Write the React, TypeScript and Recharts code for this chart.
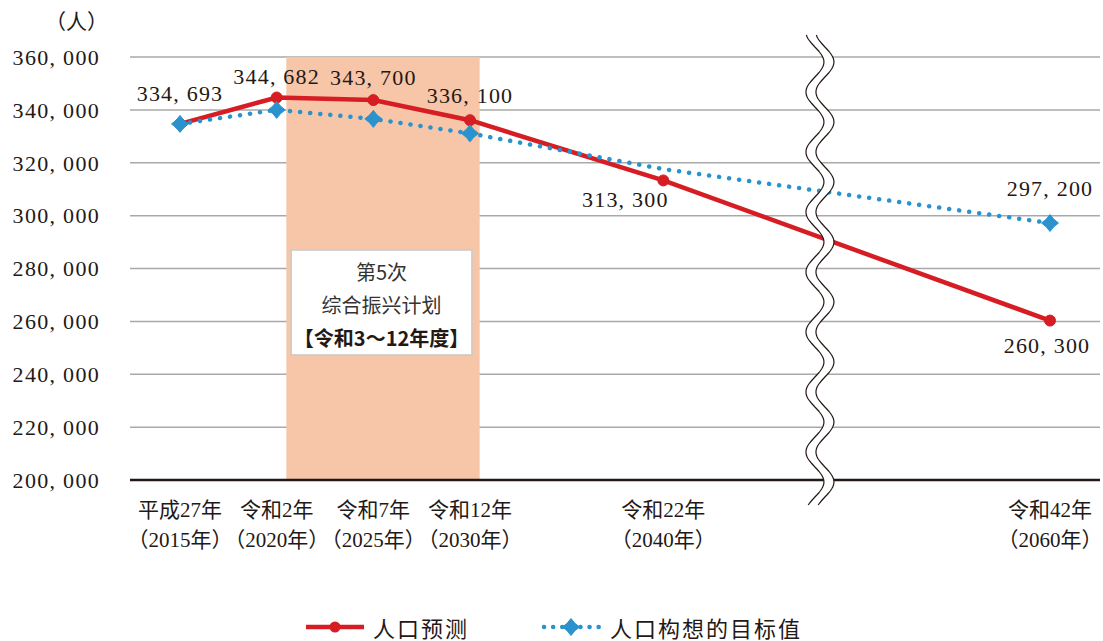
import React from 'react';
import {
  CartesianGrid,
  Line,
  LineChart,
  LabelList,
  ReferenceArea,
  XAxis,
  YAxis,
} from 'recharts';

// population projection vs. target
const years = [2015, 2020, 2025, 2030, 2040, 2060];
const projection = [334693, 344682, 343700, 336100, 313300, 260300];
const target = [334693, 340000, 336600, 331100, 317600, 297200];
const tickTop = ['平成27年', '令和2年', '令和7年', '令和12年', '令和22年', '令和42年'];
const tickBottom = ['（2015年）', '（2020年）', '（2025年）', '（2030年）', '（2040年）', '（2060年）'];
const yTicks = [200000, 220000, 240000, 260000, 280000, 300000, 320000, 340000, 360000];
const planTitle = ['第5次', '综合振兴计划', '【令和3～12年度】'];
const seriesNames = ['人口预测', '人口构想的目标值'];

const RED = '#d61d24';
const BLUE = '#2a93cd';
const INK = '#231815';
const NUM_FONT = '"Liberation Serif", "Noto Sans CJK SC", serif';
const CJK_FONT = '"Noto Sans CJK SC", "Liberation Serif", serif';

const data = years.map((year, i) => ({
  year,
  projection: projection[i],
  target: target[i],
}));

const fmt = (v: number) => `${Math.floor(v / 1000)}, ${String(v % 1000).padStart(3, '0')}`;

// label nudges relative to each point (dx, dy)
const redLabelShift: [number, number][] = [
  [0, -30],
  [0, -21],
  [0, -23],
  [0, -25],
  [-38, 19],
  [-3, 25],
];

function RedLabel(props: any) {
  const { x, y, value, index } = props;
  if (value == null) return null;
  const [dx, dy] = redLabelShift[index] ?? [0, -20];
  return (
    <text
      x={x + dx}
      y={y + dy}
      textAnchor="middle"
      dominantBaseline="central"
      fontFamily={NUM_FONT}
      fontSize={22}
      letterSpacing={1.2}
      fill={INK}
    >
      {fmt(value)}
    </text>
  );
}

function BlueLabel(props: any) {
  const { x, y, value, index } = props;
  if (value == null || index !== years.length - 1) return null;
  return (
    <text
      x={x}
      y={y - 35}
      textAnchor="middle"
      dominantBaseline="central"
      fontFamily={NUM_FONT}
      fontSize={22}
      letterSpacing={1.2}
      fill={INK}
    >
      {fmt(value)}
    </text>
  );
}

function BlueDot(props: any) {
  const { cx, cy, value, index } = props;
  if (value == null || cx == null || cy == null) return null;
  // the 2040 target has no marker in the original
  if (years[index] === 2040) return null;
  const o = 8.5;
  const i = 3.8;
  const d = `M${cx},${cy - o} L${cx + i},${cy - i} L${cx + o},${cy} L${cx + i},${cy + i} L${cx},${cy + o} L${cx - i},${cy + i} L${cx - o},${cy} L${cx - i},${cy - i} Z`;
  return <path d={d} fill={BLUE} stroke={BLUE} strokeWidth={1} />;
}

function XTick(props: any) {
  const { x, y, payload } = props;
  const idx = years.indexOf(payload.value);
  if (idx < 0) return null;
  return (
    <g>
      <text x={x} y={y + 28} textAnchor="middle" dominantBaseline="central" fontFamily={NUM_FONT} fontSize={21} fill={INK}>
        {tickTop[idx]}
      </text>
      <text x={x} y={y + 58} textAnchor="middle" dominantBaseline="central" fontFamily={NUM_FONT} fontSize={21} fill={INK}>
        {tickBottom[idx]}
      </text>
    </g>
  );
}

function PlanBox(props: any) {
  const { x, y, width, height } = props;
  const cx = x + width / 2;
  return (
    <g>
      <rect x={x} y={y} width={width} height={height} fill="#fff" stroke="#c9c9c9" strokeWidth={1.5} />
      <text x={cx} y={y + 22} textAnchor="middle" dominantBaseline="central" fontFamily={CJK_FONT} fontSize={20} fill="#333">
        {planTitle[0]}
      </text>
      <text x={cx} y={y + 55} textAnchor="middle" dominantBaseline="central" fontFamily={CJK_FONT} fontSize={20} fill="#333">
        {planTitle[1]}
      </text>
      <text x={cx} y={y + 88} textAnchor="middle" dominantBaseline="central" fontFamily={CJK_FONT} fontSize={20} fontWeight="bold" fill={INK}>
        {planTitle[2]}
      </text>
    </g>
  );
}

// wavy axis break, drawn over the lines
function AxisBreak(props: any) {
  const { x, y, width, height } = props;
  const cx = x + width / 2;
  const top = y - 22;
  const bottom = y + height + 25;
  const amp = 9;
  const period = 60;
  const half = 5;
  const left: string[] = [];
  const right: string[] = [];
  for (let yy = top; yy <= bottom; yy += 2) {
    const off = amp * Math.sin(((yy - top) / period) * 2 * Math.PI - Math.PI / 2.5);
    left.push(`${(cx + off - half).toFixed(1)},${yy.toFixed(1)}`);
    right.push(`${(cx + off + half).toFixed(1)},${yy.toFixed(1)}`);
  }
  const band = `M${left.join(' L')} L${right.slice().reverse().join(' L')} Z`;
  return (
    <g>
      <path d={band} fill="#fff" stroke="none" />
      <path d={`M${left.join(' L')}`} fill="none" stroke={INK} strokeWidth={1.2} />
      <path d={`M${right.join(' L')}`} fill="none" stroke={INK} strokeWidth={1.2} />
    </g>
  );
}

function LegendRow() {
  return (
    <div
      style={{
        position: 'absolute',
        left: 305,
        top: 613,
        height: 28,
        display: 'flex',
        alignItems: 'center',
        fontFamily: CJK_FONT,
        fontSize: 22,
        lineHeight: '28px',
        color: INK,
        letterSpacing: 2,
        whiteSpace: 'nowrap',
      }}
    >
      <svg width={60} height={20} style={{ marginRight: 8 }}>
        <line x1={1} y1={10} x2={59} y2={10} stroke={RED} strokeWidth={4.5} />
        <circle cx={30} cy={10} r={5.5} fill={RED} />
      </svg>
      <span style={{ marginRight: 72 }}>{seriesNames[0]}</span>
      <svg width={60} height={20} style={{ marginRight: 9 }}>
        <line x1={3} y1={10} x2={59} y2={10} stroke={BLUE} strokeWidth={4.5} strokeDasharray="0.1 9" strokeLinecap="round" />
        <BlueDot cx={30} cy={10} value={1} index={0} />
      </svg>
      <span>{seriesNames[1]}</span>
    </div>
  );
}

export default function App() {
  return (
    <div style={{ position: 'absolute', left: 0, top: 0, width: 1103, height: 641, background: '#fff' }}>
      <div
        style={{
          position: 'absolute',
          left: 45,
          top: 5,
          fontFamily: CJK_FONT,
          fontSize: 21,
          color: INK,
        }}
      >
        （人）
      </div>
      <LineChart
        width={1103}
        height={641}
        data={data}
        margin={{ top: 57, right: 3, bottom: 0, left: 0 }}
      >
        <CartesianGrid vertical={false} stroke="#a9a9a9" strokeWidth={1.5} />
        <XAxis
          dataKey="year"
          type="number"
          domain={[2012.414, 2062.586]}
          ticks={years}
          allowDataOverflow
          axisLine={{ stroke: INK, strokeWidth: 2.5 }}
          tickLine={false}
          tickSize={0}
          tick={<XTick />}
          height={161}
          interval={0}
        />
        <YAxis
          type="number"
          domain={[200000, 360000]}
          ticks={yTicks}
          axisLine={false}
          tickLine={false}
          tickSize={0}
          tickMargin={30}
          width={130}
          tickFormatter={fmt}
          tick={{ fill: INK, fontSize: 22, fontFamily: NUM_FONT, letterSpacing: 1.3 }}
          interval={0}
        />
        <ReferenceArea
          x1={2020.5}
          x2={2030.5}
          y1={200000}
          y2={360000}
          fill="#f7c5a8"
          fillOpacity={1}
          stroke="none"
        />
        <ReferenceArea
          x1={2020.75}
          x2={2030.1}
          y1={247300}
          y2={287000}
          shape={<PlanBox />}
        />
        <Line
          dataKey="projection"
          stroke={RED}
          strokeWidth={4.5}
          dot={{ r: 5.5, fill: RED, stroke: RED, strokeWidth: 1 }}
          activeDot={false}
          isAnimationActive={false}
        >
          <LabelList dataKey="projection" content={<RedLabel />} />
        </Line>
        <Line
          dataKey="target"
          stroke={BLUE}
          strokeWidth={4.5}
          strokeDasharray="0.1 10"
          strokeLinecap="round"
          dot={<BlueDot />}
          activeDot={false}
          isAnimationActive={false}
        >
          <LabelList dataKey="target" content={<BlueLabel />} />
        </Line>
        <ReferenceArea
          x1={2047.6}
          x2={2048.6}
          y1={200000}
          y2={360000}
          ifOverflow="visible"
          shape={<AxisBreak />}
          {...({ zIndex: 1000 } as any)}
        />
      </LineChart>
      <LegendRow />
    </div>
  );
}
